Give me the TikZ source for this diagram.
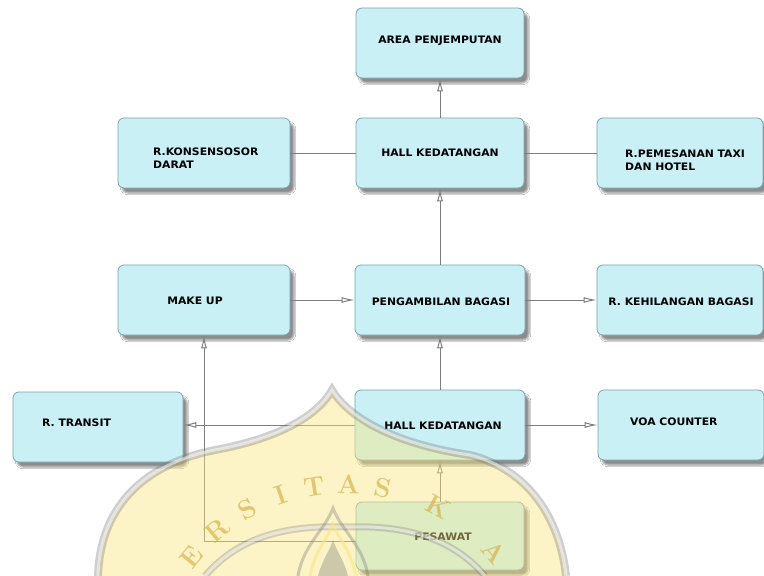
\documentclass[tikz,border=0pt]{standalone}
\usepackage{fontspec}
\newfontfamily\boxfont[FakeStretch=1.05]{DejaVu Sans}
\usetikzlibrary{arrows.meta,shadows.blur}
\definecolor{boxfill}{RGB}{200,240,245}
\definecolor{boxline}{RGB}{120,165,170}
\definecolor{conn}{RGB}{125,125,125}
\definecolor{wmyellow}{RGB}{250,232,130}
\definecolor{wmgray}{RGB}{120,120,120}
\definecolor{wmgold}{RGB}{215,180,75}
\begin{document}
\begin{tikzpicture}[x=1pt,y=-1pt,
  roomb/.style={draw=boxline, line width=0.8pt, fill=boxfill, rounded corners=6pt,
    minimum width=#1, minimum height=70pt, inner sep=0pt,
    blur shadow={shadow xshift=4pt, shadow yshift=-5pt, shadow blur steps=6, shadow opacity=45}},
  roomb/.default=170pt,
  txt/.style={font={\boxfont\bfseries\fontsize{10.3}{13}\selectfont}, inner sep=0pt, text=black, align=left},
  link/.style={draw=conn, line width=0.9pt},
  arr/.style={link, -{Latex[open,length=13pt,width=6pt,line width=1pt]}},
  wmletter/.style={font=\bfseries\fontsize{27}{27}\selectfont, text=wmgold, text opacity=.7, inner sep=0pt}]
\fill[white] (0,0) rectangle (764,576);
\useasboundingbox (0,0) rectangle (764,576);

% boxes
\node[roomb=168pt] (area)    at (440,43)  {};
\node[roomb=168pt] (halltop) at (440,153) {};
\node[roomb=172pt] (kons)    at (204,153) {};
\node[roomb=166pt] (pemes)   at (680,153) {};
\node[roomb=172pt] (mk)      at (204,300) {};
\node[roomb=170pt] (peng)    at (440,300) {};
\node[roomb=166pt] (kehil)   at (680,300) {};
\node[roomb=170pt] (tr)      at (98,427)  {};
\node[roomb=170pt] (hb)      at (440,425) {};
\node[roomb=166pt] (voa)     at (681,425) {};
\node[roomb=168pt, minimum height=68pt] (pes) at (440,536) {};

% connectors
\draw[arr]  (halltop) -- (area);
\draw[link] (kons) -- (halltop);
\draw[link] (halltop) -- (pemes);
\draw[arr]  (peng) -- (halltop);
\draw[arr]  (mk) -- (peng);
\draw[arr]  (peng) -- (kehil);
\draw[arr]  (hb) -- (peng);
\draw[arr]  (hb.west) -- (hb.west -| tr.east);
\draw[arr]  (hb) -- (voa);
\draw[arr]  (pes) -- (hb);
\draw[arr]  ([yshift=-5pt]pes.west) -| (mk.south);

% texts
\node[txt] (areaT) at (440,41) {AREA PENJEMPUTAN};
\node[txt] (htT) at (440,153) {HALL KEDATANGAN};
\node[txt, anchor=west] (konsT) at (153,158) {R.KONSENSOSOR\\DARAT};
\node[txt, anchor=west] (pemT) at (625,160) {R.PEMESANAN TAXI\\DAN HOTEL};
\node[txt] (mkT) at (195,301) {MAKE UP};
\node[txt] (pengT) at (441,302) {PENGAMBILAN BAGASI};
\node[txt] (kehT) at (681,302) {R. KEHILANGAN BAGASI};
\node[txt, anchor=west] (trT) at (42,423) {R. TRANSIT};
\node[txt] (hbT) at (443,426) {HALL KEDATANGAN};
\node[txt, anchor=west] (voaT) at (630,422) {VOA COUNTER};
\node[txt] (pesT) at (443,537) {PESAWAT};

% watermark
\fill[wmyellow, opacity=.45] (98,576) .. controls (100,510) and (140,465) .. (215,450)
  .. controls (270,440) and (315,420) .. (332,390)
  .. controls (350,420) and (400,445) .. (470,455)
  .. controls (530,470) and (560,520) .. (566,576) -- cycle;
\draw[wmgray, line width=8pt, opacity=.35] (98,576) .. controls (100,510) and (140,465) .. (215,450)
  .. controls (270,440) and (315,420) .. (332,390)
  .. controls (350,420) and (400,445) .. (470,455)
  .. controls (530,470) and (560,520) .. (566,576);
\draw[white, line width=3pt, opacity=.5] (98,576) .. controls (100,510) and (140,465) .. (215,450)
  .. controls (270,440) and (315,420) .. (332,390)
  .. controls (350,420) and (400,445) .. (470,455)
  .. controls (530,470) and (560,520) .. (566,576);
\draw[wmgray, line width=7pt, opacity=.3] (205,576) .. controls (240,535) and (290,525) .. (345,527)
  .. controls (400,525) and (450,535) .. (485,576);
\draw[white, line width=3pt, opacity=.5] (205,576) .. controls (240,535) and (290,525) .. (345,527)
  .. controls (400,525) and (450,535) .. (485,576);
\draw[wmgray, line width=3pt, opacity=.35] (298,576) .. controls (303,545) and (325,530) .. (333,508)
  .. controls (341,530) and (363,545) .. (368,576);
\draw[wmyellow, line width=3pt, opacity=.6] (310,576) .. controls (315,550) and (328,538) .. (333,524)
  .. controls (338,538) and (351,550) .. (356,576);
\fill[wmgray, opacity=.35] (318,576) .. controls (322,560) and (330,550) .. (333,540)
  .. controls (336,550) and (344,560) .. (348,576) -- cycle;
\foreach \ch/\ang [count=\i] in {E/141,R/130,S/119.5,I/109,T/99,A/89,S/79,K/62,A/41} {
  \node[wmletter, rotate=\ang-90] (wl\i) at ({345+198*cos(\ang)},{682-198*sin(\ang)}) {\ch};
}
\end{tikzpicture}
\end{document}
